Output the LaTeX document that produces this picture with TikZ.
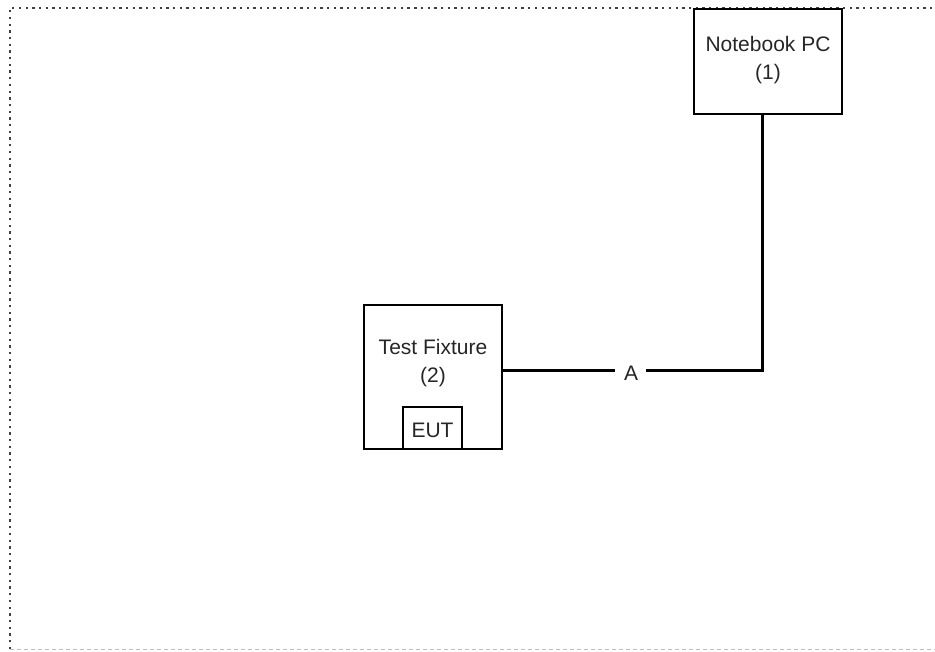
\documentclass[tikz,border=0pt]{standalone}
\usepackage{fontspec}
\setmainfont{Liberation Sans}
\begin{document}
\begin{tikzpicture}[x=1pt,y=-1pt,
  box/.style={draw=black,line width=2.4pt,rectangle,inner sep=0pt},
  lbl/.style={font=\fontsize{21}{28.5}\selectfont,align=center,text=black!85,inner sep=0pt},
  wire/.style={draw=black,line width=3pt},
  border/.style={draw=black!75,line width=2.3pt,dash pattern=on 2.3pt off 4.4pt}]
\useasboundingbox (0,0) rectangle (935,652);
% border
\draw[border] (10,649) -- (10,8) -- (935,8);
\draw[draw=black!25,line width=1pt,dash pattern=on 4pt off 3pt] (10,649) -- (935,649);
% nodes
\node[box,minimum width=148pt,minimum height=105pt] (nb) at (768,61.5) {};
\node[lbl] (nbt) at (768,60) {Notebook PC\\(1)};
\node[box,minimum width=138pt,minimum height=144pt] (tf) at (433,377) {};
\node[lbl] (tft) at (433,363) {Test Fixture\\(2)};
\node[box,minimum width=59pt,minimum height=42pt] (eut) at (432.5,428) {};
\node[lbl] (eutt) at (432.5,430) {EUT};
\node[lbl,inner xsep=9pt] (A) at (631,373) {A};
\coordinate (corner) at (762,371);
% wires
\draw[wire] (tf.east |- corner) -- (A.west |- corner);
\draw[wire,line cap=rect] (A.east |- corner) -- (corner) -- (corner |- nb.south);
\end{tikzpicture}
\end{document}
